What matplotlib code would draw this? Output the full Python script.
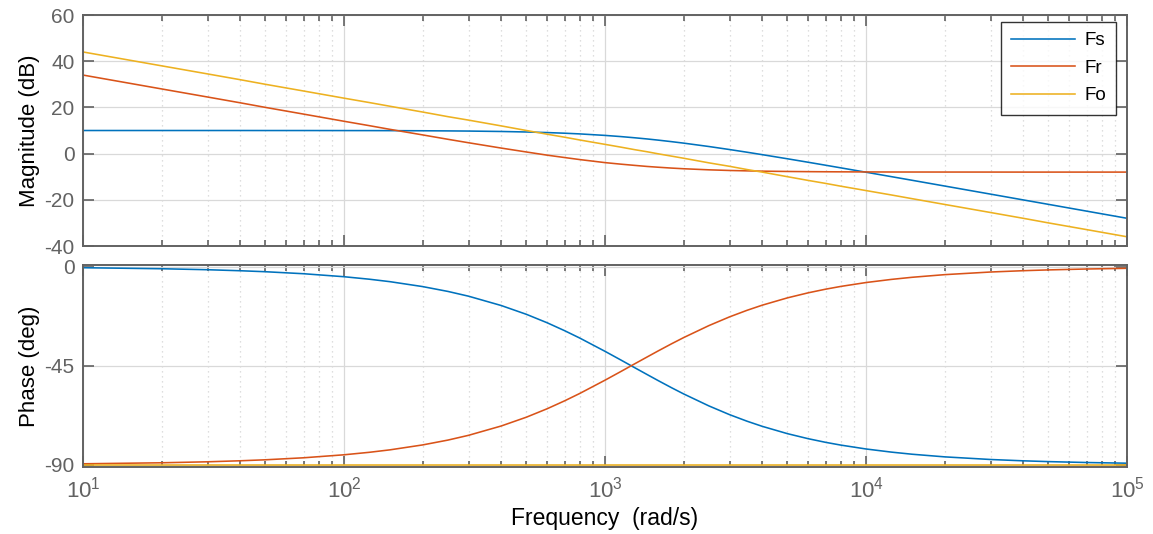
import matplotlib.pyplot as plt
from matplotlib.ticker import LogLocator, NullFormatter

plt.rcParams['font.family'] = ['Liberation Sans', 'DejaVu Sans']
plt.rcParams['axes.unicode_minus'] = False
plt.rcParams['mathtext.fontset'] = 'custom'
plt.rcParams['mathtext.rm'] = 'Liberation Sans'
plt.rcParams['mathtext.it'] = 'Liberation Sans'
plt.rcParams['mathtext.default'] = 'regular'

# frequency points (rad/s)
freq = [10, 20, 30, 40, 50, 70, 100, 125, 150, 200, 250, 300, 400, 500, 600,
        700, 800, 1000, 1150, 1300, 1450, 1600, 1800, 2000, 2500, 3000, 3500,
        4000, 5000, 6000, 7000, 8000, 10000, 12500, 15000, 20000, 30000,
        40000, 50000, 70000, 100000]

# magnitude (dB)
fs_mag = [10.0, 10.0, 10.0, 10.0, 9.99, 9.99, 9.97, 9.96, 9.94, 9.89, 9.83,
          9.76, 9.58, 9.36, 9.11, 8.83, 8.53, 7.88, 7.37, 6.85, 6.34, 5.83,
          5.17, 4.54, 3.07, 1.76, 0.60, -0.45, -2.24, -3.74, -5.03, -6.16,
          -8.06, -9.97, -11.54, -14.03, -17.54, -20.04, -21.97, -24.9, -28.0]
fr_mag = [34.0, 28.0, 24.5, 22.0, 20.0, 17.1, 14.0, 12.1, 10.5, 8.1, 6.2,
          4.7, 2.4, 0.7, -0.67, -1.7, -2.58, -3.9, -4.57, -5.1, -5.56, -5.9,
          -6.27, -6.55, -7.02, -7.3, -7.47, -7.6, -7.73, -7.81, -7.86, -7.89,
          -7.93, -7.96, -7.97, -7.98, -7.99, -8.0, -8.0, -8.0, -8.0]
fo_mag = [44.0, 38.0, 34.5, 32.0, 30.0, 27.1, 24.0, 22.1, 20.5, 18.0, 16.0,
          14.5, 12.0, 10.0, 8.4, 7.1, 5.9, 4.0, 2.8, 1.7, 0.8, -0.1, -1.1,
          -2.0, -4.0, -5.5, -6.9, -8.0, -10.0, -11.6, -12.9, -14.1, -16.0,
          -17.9, -19.5, -22.0, -25.5, -28.0, -30.0, -32.9, -36.0]

# phase (deg)
fs_ph = [-0.45, -0.91, -1.36, -1.82, -2.27, -3.18, -4.54, -5.67, -6.79,
         -9.02, -11.22, -13.39, -17.62, -21.64, -25.46, -29.06, -32.41,
         -38.45, -42.39, -45.9, -49.0, -51.78, -55.01, -57.79, -63.25,
         -67.22, -70.2, -72.52, -75.86, -78.14, -79.8, -81.05, -82.82,
         -84.24, -85.2, -86.4, -87.6, -88.2, -88.56, -88.97, -89.28]
fr_ph = [-89.55, -89.09, -88.64, -88.18, -87.73, -86.82, -85.46, -84.33,
         -83.21, -80.98, -78.78, -76.61, -72.38, -68.36, -64.54, -60.94,
         -57.59, -51.55, -47.61, -44.1, -41.0, -38.22, -34.99, -32.21,
         -26.75, -22.78, -19.8, -17.48, -14.14, -11.86, -10.2, -8.95, -7.18,
         -5.76, -4.8, -3.6, -2.4, -1.8, -1.44, -1.03, -0.72]
fo_ph = [-90.0] * len(freq)

names = ['Fs', 'Fr', 'Fo']
colors = ['#0072BD', '#D95319', '#EDB120']
spine_c = '#626262'

fig = plt.figure(figsize=(11.53, 5.34), dpi=100)
ax1 = fig.add_axes([0.072, 0.5393, 0.9055, 0.4326])
ax2 = fig.add_axes([0.072, 0.1255, 0.9055, 0.3783])

for mag, c, n in zip([fs_mag, fr_mag, fo_mag], colors, names):
    ax1.semilogx(freq, mag, color=c, lw=1.15, label=n)
for ph, c in zip([fs_ph, fr_ph, fo_ph], colors):
    ax2.semilogx(freq, ph, color=c, lw=1.15)

ax1.set_ylim(-40, 60)
ax1.set_yticks([-40, -20, 0, 20, 40, 60])
ax2.set_ylim(-91.0, 0.8)
ax2.set_yticks([-90, -45, 0])

for ax in (ax1, ax2):
    ax.set_xlim(10, 1e5)
    ax.xaxis.set_major_locator(LogLocator(base=10, numticks=10))
    ax.xaxis.set_minor_locator(LogLocator(base=10, subs=range(2, 10), numticks=50))
    ax.xaxis.set_minor_formatter(NullFormatter())
    ax.grid(True, which='major', color='#d9d9d9', lw=0.9, ls='-')
    ax.grid(True, which='minor', axis='x', color='#d4d4d4', lw=0.9, ls=(0, (1, 3)))
    ax.set_axisbelow(True)
    ax.tick_params(which='both', direction='in', top=True, right=True,
                   colors=spine_c, labelsize=15)
    ax.tick_params(which='major', length=8, width=1.2)
    ax.tick_params(which='minor', length=4, width=1.2)
    ax.tick_params(axis='y', pad=6)
    ax.tick_params(axis='x', pad=7, labelsize=16)
    for s in ax.spines.values():
        s.set_color(spine_c)
        s.set_linewidth(1.4)

ax1.tick_params(labelbottom=False)
ax1.set_ylabel('Magnitude (dB)', fontsize=16, labelpad=3)
ax2.set_ylabel('Phase (deg)', fontsize=16, labelpad=3)
ax2.set_xlabel('Frequency  (rad/s)', fontsize=16.5, labelpad=3)

leg = ax1.legend(loc='upper right', bbox_to_anchor=(0.9895, 0.9697),
                 borderaxespad=0, fontsize=13.5, frameon=True, fancybox=False,
                 edgecolor='black', handlelength=3.4, handletextpad=0.5,
                 labelspacing=0.55, borderpad=0.55)
leg.get_frame().set_linewidth(1.0)

fig.savefig('out.png', dpi=100)
